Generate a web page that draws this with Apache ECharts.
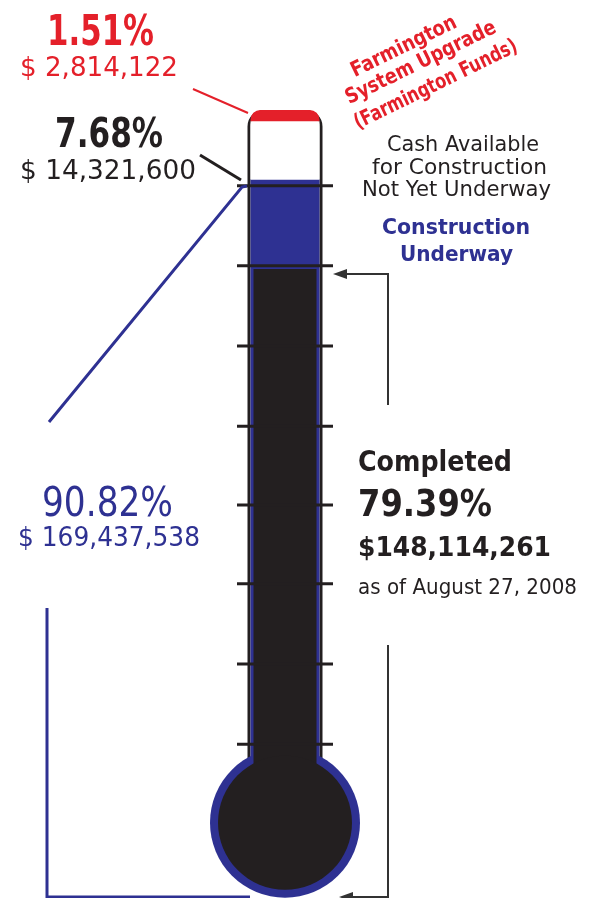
<!DOCTYPE html>
<html><head><meta charset="utf-8">
<script src="https://cdn.jsdelivr.net/npm/echarts@6/dist/echarts.min.js"></script>
<style>html,body{margin:0;padding:0;background:#fff}#c{width:591px;height:898px}</style>
</head><body><div id="c"></div>
<script>
// ---- data ----
const categories = ['Project funds'];
const completedPct = [79.39];
const underwayPct = [11.43];
const cashPct = [7.68];
const farmingtonPct = [1.51];
const bulbBase = [0];
const tickLevels = [90.0, 79.4, 68.8, 58.2, 47.8, 37.4, 26.8, 16.2];
const farmingtonLabels = ['1.51%', '$ 2,814,122'];
const cashLabels = ['7.68%', '$ 14,321,600'];
const fundedLabels = ['90.82%', '$ 169,437,538'];
const completedLabels = ['Completed', '79.39%', '$148,114,261', 'as of August 27, 2008'];
const farmingtonTitle = ['Farmington', 'System Upgrade', '(Farmington Funds)'];
const cashTitle = ['Cash Available', 'for Construction', 'Not Yet Underway'];
const underwayTitle = ['Construction', 'Underway'];

const RED = '#e4202a', BLUE = '#2e3192', BLACK = '#231f20';
const FONT = 'DejaVu Sans';
const total = completedPct[0] + underwayPct[0] + cashPct[0] + farmingtonPct[0];

const ctx = document.createElement('canvas').getContext('2d');
function txt(text, x, y, size, weight, color, width, align, rotation) {
  ctx.font = weight + ' ' + size + 'px "' + FONT + '"';
  const m = ctx.measureText(text).width;
  const dy = rotation ? 0 : size * 0.07;
  return {
    type: 'text', x: x, y: y + dy, rotation: rotation || 0,
    scaleX: width / m, scaleY: 1, z: 20, silent: true,
    style: {
      text: text, fontSize: size, fontWeight: weight, fontFamily: FONT, fill: color,
      align: align || 'left', verticalAlign: 'middle',
      textAlign: align || 'left', textVerticalAlign: 'middle'
    }
  };
}
function line(points, color, w) {
  return { type: 'polyline', z: 15, silent: true, shape: { points: points },
    style: { stroke: color, lineWidth: w, fill: null } };
}
function arrow(points, color) {
  return { type: 'polygon', z: 15, silent: true, shape: { points: points }, style: { fill: color } };
}

const ROT = 0.455;
const graphics = [
  txt(farmingtonLabels[0], 47, 31.5, 42, 'bold', RED, 107),
  txt(farmingtonLabels[1], 20, 67.5, 26, 'normal', RED, 158),
  txt(cashLabels[0], 55, 133, 41, 'bold', BLACK, 108),
  txt(cashLabels[1], 20, 170, 26, 'normal', BLACK, 176),
  txt(fundedLabels[0], 42, 502, 41, 'normal', BLUE, 131),
  txt(fundedLabels[1], 18, 537, 27, 'normal', BLUE, 182),
  txt(farmingtonTitle[0], 404, 47, 21, 'bold', RED, 115, 'center', ROT),
  txt(farmingtonTitle[1], 421, 63, 21, 'bold', RED, 165, 'center', ROT),
  txt(farmingtonTitle[2], 436, 85, 21, 'bold', RED, 179, 'center', ROT),
  txt(cashTitle[0], 463, 144.5, 20.5, 'normal', BLACK, 152, 'center'),
  txt(cashTitle[1], 459.5, 167, 20.5, 'normal', BLACK, 175, 'center'),
  txt(cashTitle[2], 456.5, 189.5, 20.5, 'normal', BLACK, 189, 'center'),
  txt(underwayTitle[0], 456, 227.5, 21, 'bold', BLUE, 148, 'center'),
  txt(underwayTitle[1], 456.5, 254.5, 21, 'bold', BLUE, 113, 'center'),
  txt(completedLabels[0], 358, 462, 28, 'bold', BLACK, 154),
  txt(completedLabels[1], 358, 503.5, 37, 'bold', BLACK, 134),
  txt(completedLabels[2], 358, 547, 27, 'bold', BLACK, 193),
  txt(completedLabels[3], 358, 587, 22, 'normal', BLACK, 219),
  line([[193, 89], [248, 113]], RED, 2),
  line([[200, 155], [241, 180]], BLACK, 3),
  line([[49, 422], [242, 187], [247, 186]], BLUE, 3),
  line([[47, 608], [47, 897], [250, 897]], BLUE, 3),
  line([[388, 405], [388, 274], [344, 274]], '#333', 2),
  arrow([[333, 274], [347, 269], [347, 279]], '#333'),
  line([[388, 645], [388, 897], [350, 897]], '#333', 2),
  arrow([[339, 897], [353, 892], [353, 902]], '#333')
];

const chart = echarts.init(document.getElementById('c'), null, { renderer: 'canvas' });
chart.setOption({
  animation: false,
  backgroundColor: '#fff',
  grid: { left: 237, right: 258, top: 102.4, bottom: 1 },
  xAxis: [
    { type: 'category', data: categories, show: false },
    { type: 'category', data: categories, show: false }
  ],
  yAxis: { type: 'value', min: -4, max: 101, show: false },
  series: [
    { type: 'bar', name: 'Tube', xAxisIndex: 0, data: [total], barWidth: 75, silent: true, z: 1,
      itemStyle: { color: '#fff', borderColor: BLACK, borderWidth: 3, borderRadius: [15, 15, 0, 0] } },
    { type: 'scatter', name: 'Bulb ring', xAxisIndex: 0, data: bulbBase.map(v => [categories[0], v]),
      symbol: 'circle', symbolSize: 150, symbolOffset: [0, -44], silent: true, z: 2,
      itemStyle: { color: BLUE, opacity: 1 } },
    { type: 'bar', name: 'Completed', stack: 'fund', xAxisIndex: 1, data: completedPct, barWidth: 69, silent: true, z: 3,
      itemStyle: { color: BLACK, borderColor: BLUE, borderWidth: 3 } },
    { type: 'bar', name: 'Construction Underway', stack: 'fund', xAxisIndex: 1, data: underwayPct, barWidth: 69, silent: true, z: 3,
      itemStyle: { color: BLUE, borderColor: BLUE, borderWidth: 3 } },
    { type: 'bar', name: 'Cash Available', stack: 'fund', xAxisIndex: 1, data: cashPct, barWidth: 69, silent: true, z: 3,
      itemStyle: { color: '#fff' } },
    { type: 'bar', name: 'Farmington', stack: 'fund', xAxisIndex: 1, data: farmingtonPct, barWidth: 69, silent: true, z: 3,
      itemStyle: { color: RED, borderColor: RED, borderWidth: 3, borderRadius: [12, 12, 0, 0] } },
    { type: 'scatter', name: 'Bulb', xAxisIndex: 0, data: bulbBase.map(v => [categories[0], v]),
      symbol: 'circle', symbolSize: 134, symbolOffset: [0, -44], silent: true, z: 4,
      itemStyle: { color: BLACK, opacity: 1 } },
    { type: 'scatter', name: 'Ticks', xAxisIndex: 0, data: tickLevels.map(v => [categories[0], v]),
      symbol: 'rect', symbolSize: [96, 3], silent: true, z: 5,
      itemStyle: { color: BLACK, opacity: 1 } }
  ],
  graphic: graphics
});
</script></body></html>
